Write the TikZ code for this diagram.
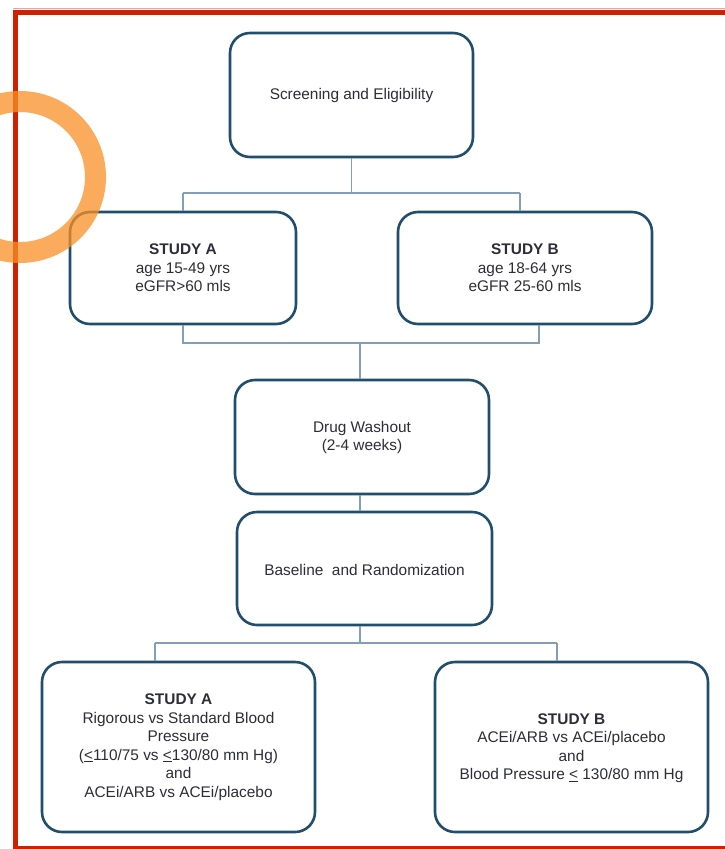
\documentclass[tikz,border=0pt]{standalone}
\usepackage{fontspec}
\setmainfont{Liberation Sans}
\begin{document}
\begin{tikzpicture}[x=1pt,y=-1pt,
  boxst/.style={draw=boxblue, line width=2.6pt, rounded corners=20pt, fill=white, inner sep=0pt},
  txt/.style={text=txtgray, align=center, font=\fontsize{15.4}{18.5}\selectfont},
  conn/.style={draw=connblue, line width=1.3pt}]
\definecolor{boxblue}{RGB}{33,78,108}
\definecolor{connblue}{RGB}{130,158,185}
\definecolor{txtgray}{RGB}{45,45,55}
\definecolor{redb}{RGB}{204,34,0}
\definecolor{ringor}{RGB}{249,144,37}
\useasboundingbox (0,0) rectangle (725,849);
\fill[white] (0,0) rectangle (725,849);
% red frame
\draw[redb, line width=5pt] (15.5,849) -- (15.5,12.5) -- (725,12.5);
\draw[redb!40, line width=1pt] (13,8.5) -- (725,8.5);
\draw[redb, line width=2.5pt] (15.5,847.5) -- (725,847.5);
% boxes
\node[boxst, minimum width=243pt, minimum height=124pt] (top) at (351.5,95) {};
\node[txt] (toptext) at (351.5,96) {Screening and Eligibility};
\node[boxst, minimum width=226pt, minimum height=112pt] (sA) at (183,268) {};
\node[txt] (sAtext) at (183,268) {\textbf{STUDY A}\\age 15-49 yrs\\eGFR>60 mls};
\node[boxst, minimum width=254pt, minimum height=112pt] (sB) at (525,268) {};
\node[txt] (sBtext) at (525,268) {\textbf{STUDY B}\\age 18-64 yrs\\eGFR 25-60 mls};
\node[boxst, minimum width=254pt, minimum height=114pt] (wash) at (362,437) {};
\node[txt] (washtext) at (362,437.5) {Drug Washout\\(2-4 weeks)};
\node[boxst, minimum width=255pt, minimum height=113pt] (base) at (364.5,568.5) {};
\node[txt] (basetext) at (364.5,570) {Baseline\ \ and Randomization};
\node[boxst, minimum width=273pt, minimum height=170pt] (bA) at (178.5,747) {};
\node[txt] (bAtext) at (178.5,747) {\textbf{STUDY A}\\Rigorous vs Standard Blood\\Pressure\\(\underline{<}110/75 vs \underline{<}130/80 mm Hg)\\and\\ACEi/ARB vs ACEi/placebo};
\node[boxst, minimum width=273pt, minimum height=170pt] (bB) at (571.5,747) {};
\node[txt] (bBtext) at (571.5,748) {\textbf{STUDY B}\\ACEi/ARB vs ACEi/placebo\\and\\Blood Pressure \underline{<} 130/80 mm Hg};
% junctions
\coordinate (j1) at (351.5,193);
\coordinate (j1a) at (183,193);
\coordinate (j1b) at (520,193);
\coordinate (j2a) at (183,343);
\coordinate (j2b) at (539,343);
\coordinate (j2) at (360,343);
\coordinate (j3) at (360,500);
\coordinate (j4) at (360,643);
\coordinate (j4a) at (155,643);
\coordinate (j4b) at (557,643);
% connectors
\draw[conn] (top.south) -- (j1);
\draw[conn] (j1a) -- (j1b);
\draw[conn] (j1a) -- (sA.north -| j1a);
\draw[conn] (j1b) -- (sB.north -| j1b);
\draw[conn] (sA.south -| j2a) -- (j2a) -- (j2b) -- (sB.south -| j2b);
\draw[conn] (j2) -- (wash.north -| j2);
\draw[conn] (wash.south -| j3) -- (base.north -| j3);
\draw[conn] (base.south -| j4) -- (j4);
\draw[conn] (j4a) -- (j4b);
\draw[conn] (j4a) -- (bA.north -| j4a);
\draw[conn] (j4b) -- (bB.north -| j4b);
% orange ring
\draw[ringor, opacity=0.75, line width=21pt] (20,177) circle (75.5);
\end{tikzpicture}
\end{document}
